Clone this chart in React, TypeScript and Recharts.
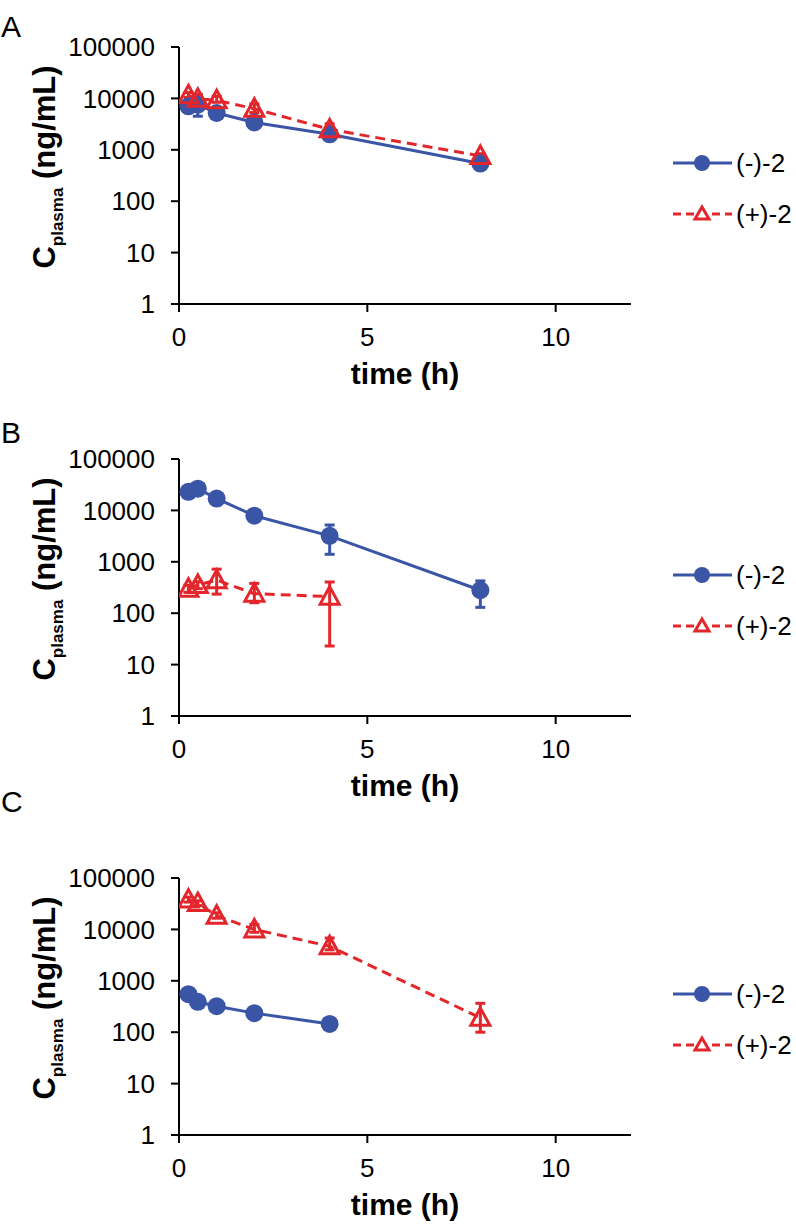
import React from "react";
import { LineChart, Line, XAxis, YAxis, ErrorBar } from "recharts";

const times = [0.25, 0.5, 1, 2, 4, 8];
const seriesNames = ["(-)-2", "(+)-2"];
const panelLetters = ["A", "B", "C"];
const xTicks = [0, 5, 10];
const yTicks = [1, 10, 100, 1000, 10000, 100000];

// panel A
const aMinus = [7000, 7600, 5200, 3400, 2000, 540];
const aMinusLow = [6100, 4500, 4600, 2700, 1800, 500];
const aMinusHigh = [8000, 9800, 5800, 4100, 2250, 590];
const aPlus = [11500, 9800, 9200, 6300, 2500, 760];
const aPlusLow = [10500, 8000, 8400, 5300, 2100, 690];
const aPlusHigh = [13000, 12000, 11000, 7800, 3200, 840];

// panel B
const bMinus = [23000, 26500, 17000, 7900, 3200, 280];
const bMinusLow = [21500, 25000, 15500, 7200, 1400, 130];
const bMinusHigh = [24500, 28000, 18500, 8700, 5200, 425];
const bPlus = [300, 355, 440, 240, 210];
const bPlusLow = [255, 300, 235, 160, 23];
const bPlusHigh = [350, 410, 720, 380, 405];

// panel C
const cMinus = [550, 390, 320, 235, 145];
const cMinusLow = [520, 370, 300, 220, 135];
const cMinusHigh = [580, 410, 340, 250, 155];
const cPlus = [38000, 32500, 18500, 10000, 4700, 190];
const cPlusLow = [34000, 29000, 16500, 8800, 4000, 100];
const cPlusHigh = [42500, 36000, 21000, 12500, 6800, 365];

const BLUE = "#3A55A5";
const RED = "#E3262B";
const FONT = "'Liberation Sans', Arial, sans-serif";

const rows = (v: number[], lo: number[], hi: number[]) =>
  v.map((y, i) => ({ t: times[i], y, err: [y - lo[i], hi[i] - y] }));

const panels = [
  { top: 0, minus: rows(aMinus, aMinusLow, aMinusHigh), plus: rows(aPlus, aPlusLow, aPlusHigh) },
  { top: 412, minus: rows(bMinus, bMinusLow, bMinusHigh), plus: rows(bPlus, bPlusLow, bPlusHigh) },
  { top: 831, minus: rows(cMinus, cMinusLow, cMinusHigh), plus: rows(cPlus, cPlusLow, cPlusHigh) },
];
const letterBaselines = [37, 443, 812];

const triangleDot = (props: any) => {
  const { cx, cy, index } = props;
  if (cx == null || cy == null) return <g key={`tri-${index}`} />;
  return (
    <path
      key={`tri-${index}`}
      d={`M${cx},${cy - 10} L${cx + 9.5},${cy + 7.5} L${cx - 9.5},${cy + 7.5} Z`}
      fill="none"
      stroke={RED}
      strokeWidth={3}
    />
  );
};

const XLabel = (props: any) => {
  const vb = props.viewBox || { x: 179, y: 304, width: 452 };
  return (
    <text x={vb.x + vb.width / 2} y={vb.y + 80} textAnchor="middle" fontSize={30} fontWeight="bold" fontFamily={FONT} fill="#000">
      time (h)
    </text>
  );
};

const YLabel = (props: any) => {
  const vb = props.viewBox || { x: 0, y: 47, height: 257 };
  const x = 55;
  const y = vb.y + 120;
  return (
    <text x={x} y={y} transform={`rotate(-90, ${x}, ${y})`} textAnchor="middle" fontSize={31} fontWeight="bold" fontFamily={FONT} fill="#000">
      C
      <tspan fontSize={17} dy={8}>plasma</tspan>
      <tspan dy={-8}> (ng/mL)</tspan>
    </text>
  );
};

const LegendBox = () => (
  <svg width={136} height={100} style={{ position: "absolute", left: 660, top: 140 }}>
    <line x1={13} x2={72} y1={23} y2={23} stroke={BLUE} strokeWidth={3} />
    <circle cx={42} cy={23} r={8} fill={BLUE} />
    <text x={76} y={32} fontSize={26} fontFamily={FONT} fill="#000">{seriesNames[0]}</text>
    <line x1={13} x2={72} y1={74} y2={74} stroke={RED} strokeWidth={3} strokeDasharray="8 5" />
    <path d={`M42,67 L49,79 L35,79 Z`} fill="#fff" stroke={RED} strokeWidth={3} />
    <text x={76} y={83} fontSize={26} fontFamily={FONT} fill="#000">{seriesNames[1]}</text>
  </svg>
);

const tickStyle = { fontSize: 26, fill: "#000", fontFamily: FONT };
const axisStroke = { stroke: "#000", strokeWidth: 2 };

const Panel = ({ top, minus, plus }: { top: number; minus: any[]; plus: any[] }) => (
  <div style={{ position: "absolute", left: 0, top, width: 796, height: 395 }}>
    <LineChart width={796} height={395} margin={{ top: 47, right: 165, bottom: 0, left: 0 }}>
      <XAxis xAxisId="top" orientation="top" type="number" domain={[0, 12]} height={0} tick={false} tickLine={false} axisLine={axisStroke} />
      <YAxis yAxisId="right" orientation="right" type="number" domain={[0, 1]} width={0} tick={false} tickLine={false} axisLine={axisStroke} />
      <XAxis
        dataKey="t"
        type="number"
        domain={[0, 12]}
        ticks={xTicks}
        interval={0}
        allowDataOverflow
        height={91}
        tick={tickStyle}
        tickSize={8}
        tickMargin={16}
        axisLine={axisStroke}
        tickLine={axisStroke}
        label={(p: any) => <XLabel {...p} />}
      />
      <YAxis
        type="number"
        scale="log"
        domain={[1, 100000]}
        ticks={yTicks}
        interval={0}
        allowDataOverflow
        width={179}
        tick={tickStyle}
        tickFormatter={(v: number) => String(v)}
        tickSize={8}
        tickMargin={16}
        axisLine={axisStroke}
        tickLine={axisStroke}
        label={(p: any) => <YLabel {...p} />}
      />
      <Line
        data={minus}
        dataKey="y"
        name={seriesNames[0]}
        stroke={BLUE}
        strokeWidth={3}
        dot={{ r: 9, fill: BLUE, stroke: BLUE, strokeWidth: 0 }}
        isAnimationActive={false}
      >
        <ErrorBar dataKey="err" direction="y" width={5} stroke={BLUE} strokeWidth={3} />
      </Line>
      <Line
        data={plus}
        dataKey="y"
        name={seriesNames[1]}
        stroke={RED}
        strokeWidth={3}
        strokeDasharray="10 6"
        dot={triangleDot}
        isAnimationActive={false}
      >
        <ErrorBar dataKey="err" direction="y" width={5} stroke={RED} strokeWidth={3} />
      </Line>
    </LineChart>
    <LegendBox />
  </div>
);

export default function App() {
  return (
    <div style={{ position: "absolute", left: 0, top: 0, width: 796, height: 1231, background: "#fff", fontFamily: FONT }}>
      {panels.map((p, i) => (
        <Panel key={panelLetters[i]} top={p.top} minus={p.minus} plus={p.plus} />
      ))}
      <svg width={796} height={1231} style={{ position: "absolute", left: 0, top: 0, pointerEvents: "none" }}>
        {panelLetters.map((l, i) => (
          <text key={l} x={1} y={letterBaselines[i]} fontSize={30} fontFamily={FONT} fill="#000">
            {l}
          </text>
        ))}
      </svg>
    </div>
  );
}
